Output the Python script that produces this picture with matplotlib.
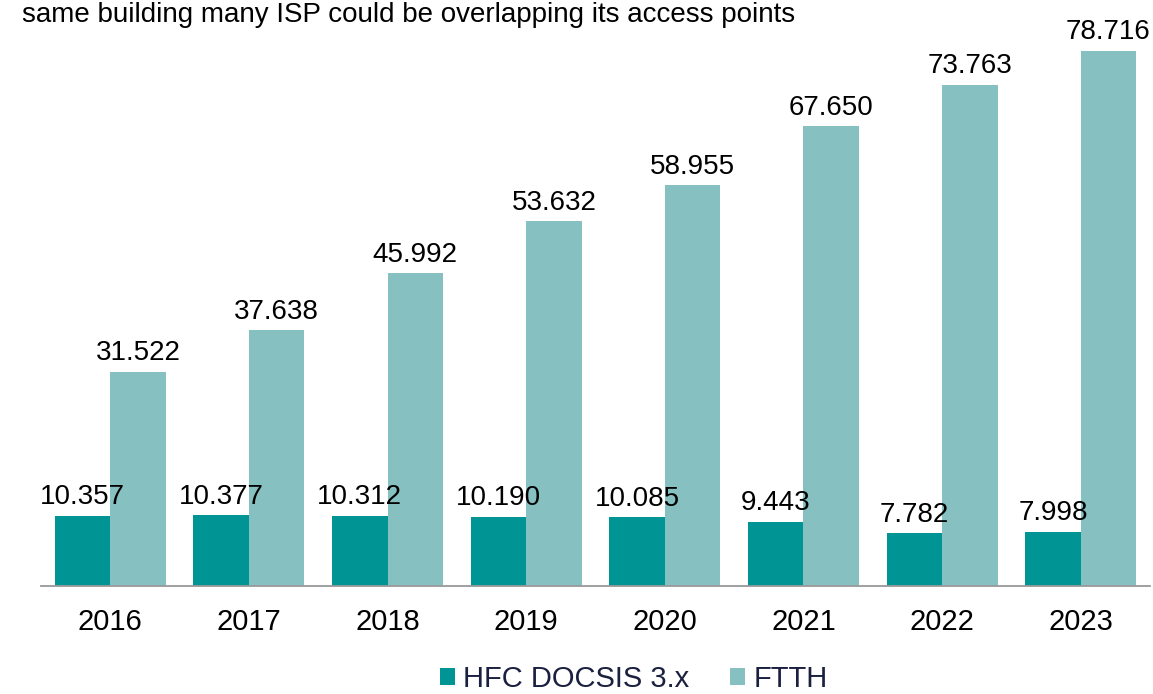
import matplotlib.pyplot as plt
import numpy as np

plt.rcParams['font.family'] = ['Liberation Sans', 'DejaVu Sans']

# data
years = ["2016", "2017", "2018", "2019", "2020", "2021", "2022", "2023"]
hfc = [10.357, 10.377, 10.312, 10.190, 10.085, 9.443, 7.782, 7.998]
ftth = [31.522, 37.638, 45.992, 53.632, 58.955, 67.650, 73.763, 78.716]
hfc_labels = ["10.357", "10.377", "10.312", "10.190", "10.085", "9.443", "7.782", "7.998"]
ftth_labels = ["31.522", "37.638", "45.992", "53.632", "58.955", "67.650", "73.763", "78.716"]

c_hfc = "#009494"
c_ftth = "#86c0c1"

fig = plt.figure(figsize=(11.53, 6.94), dpi=100)
ax = fig.add_axes([41 / 1153, 108 / 694, 1109 / 1153, 586 / 694])

x = np.arange(len(years))
w = 0.4
b1 = ax.bar(x - w / 2, hfc, w, color=c_hfc, label="HFC DOCSIS 3.x")
b2 = ax.bar(x + w / 2, ftth, w, color=c_ftth, label="FTTH")

# etiquetas de valor encima de cada barra
for rect, lab in zip(b1, hfc_labels):
    ax.annotate(lab, (rect.get_x() + rect.get_width() / 2, rect.get_height()),
                xytext=(0, 4), textcoords="offset points", ha="center", va="bottom",
                fontsize=20, color="black")
for rect, lab in zip(b2, ftth_labels):
    ax.annotate(lab, (rect.get_x() + rect.get_width() / 2, rect.get_height()),
                xytext=(0, 4), textcoords="offset points", ha="center", va="bottom",
                fontsize=20, color="black")

ax.set_xlim(-0.5, len(years) - 0.5)
ax.set_ylim(0, 86.2)
ax.set_xticks(x)
ax.set_xticklabels(years, fontsize=21)
ax.tick_params(axis="x", length=0, pad=16)
ax.set_yticks([])
for s in ["top", "right", "left"]:
    ax.spines[s].set_visible(False)
ax.spines["bottom"].set_color("#999999")
ax.spines["bottom"].set_linewidth(1.3)
ax.patch.set_alpha(0)

fig.text(22 / 1153, 1 - 15 / 694, "same building many ISP could be overlapping its access points",
         fontsize=20, ha="left", va="center", color="black")

leg = fig.legend(loc="center", bbox_to_anchor=(634 / 1153, 1 - 679 / 694), ncol=2,
                 frameon=False, fontsize=21, handlelength=0.5, handleheight=0.5,
                 handletextpad=0.3, columnspacing=1.4, borderpad=0.2)
for t in leg.get_texts():
    t.set_color("#1b2040")

fig.savefig("out.png", dpi=100)
